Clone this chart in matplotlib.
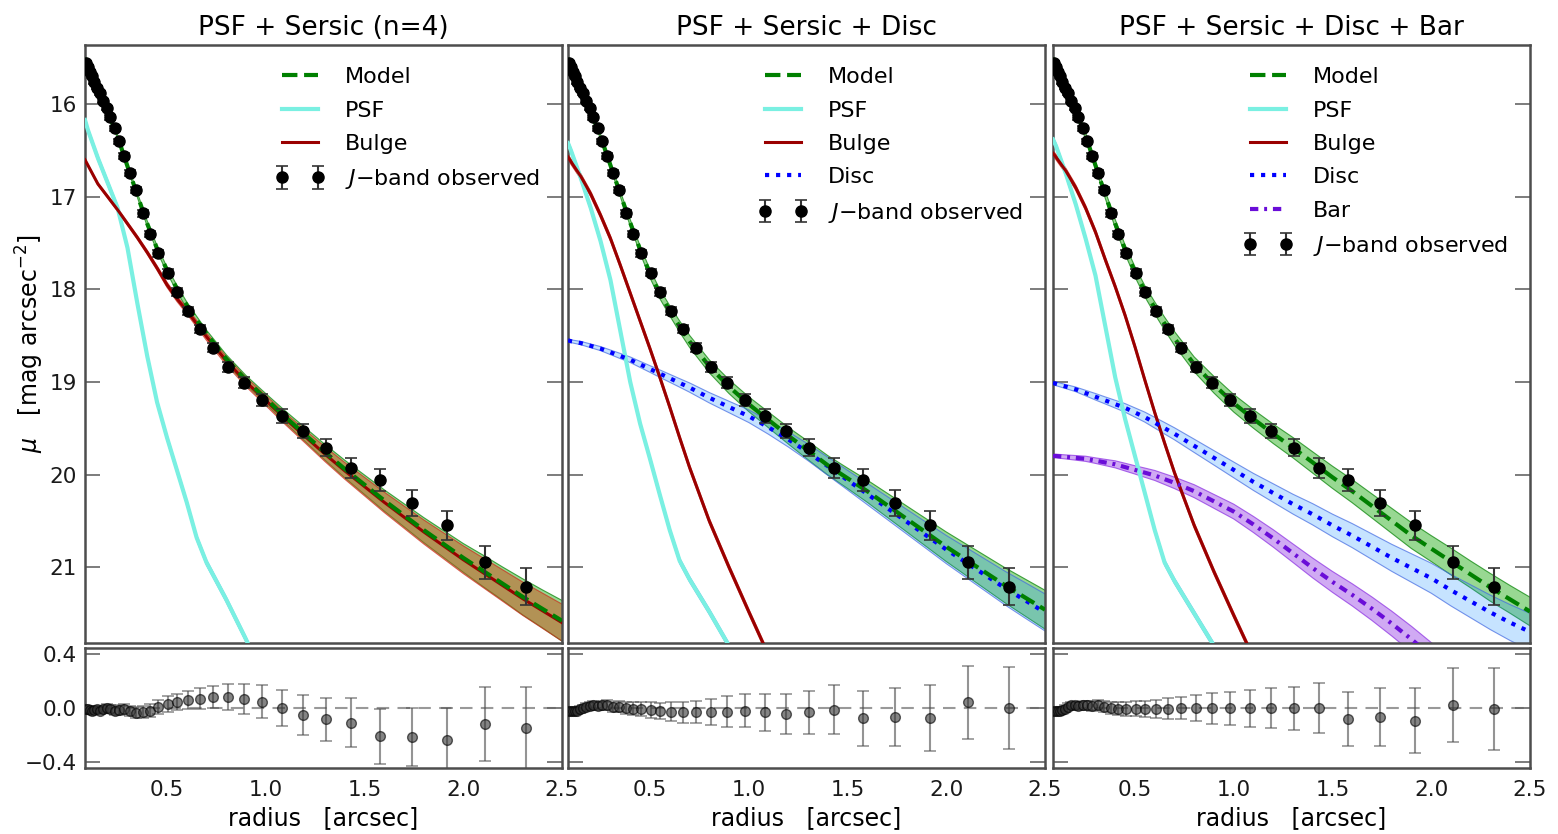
import numpy as np
import matplotlib.pyplot as plt

# isophote radii (arcsec) and observed J-band profile
r_obs = [0.090, 0.099, 0.109, 0.120, 0.132, 0.146, 0.160, 0.176, 0.194, 0.213,
         0.235, 0.258, 0.284, 0.312, 0.344, 0.378, 0.416, 0.457, 0.503, 0.553,
         0.609, 0.667, 0.731, 0.811, 0.890, 0.980, 1.083, 1.190, 1.304, 1.433,
         1.580, 1.740, 1.917, 2.110, 2.320]
mu_obs = [15.55, 15.60, 15.65, 15.70, 15.76, 15.82, 15.88, 15.96, 16.04, 16.14,
          16.26, 16.40, 16.56, 16.74, 16.93, 17.18, 17.40, 17.61, 17.82, 18.03,
          18.23, 18.43, 18.63, 18.84, 19.01, 19.20, 19.37, 19.53, 19.71, 19.93,
          20.06, 20.31, 20.55, 20.95, 21.21]
mu_err = [0.02, 0.02, 0.02, 0.02, 0.02, 0.02, 0.022, 0.022, 0.024, 0.025,
          0.026, 0.028, 0.03, 0.03, 0.032, 0.033, 0.035, 0.036, 0.038, 0.04,
          0.042, 0.045, 0.05, 0.055, 0.06, 0.065, 0.075, 0.08, 0.095, 0.11,
          0.12, 0.14, 0.16, 0.18, 0.2]
res_err = [0.02, 0.02, 0.02, 0.022, 0.022, 0.024, 0.025, 0.026, 0.028, 0.03,
           0.032, 0.034, 0.036, 0.038, 0.04, 0.044, 0.048, 0.052, 0.056, 0.06,
           0.068, 0.08, 0.082, 0.097, 0.113, 0.122, 0.136, 0.148, 0.158, 0.182,
           0.202, 0.217, 0.243, 0.273, 0.305]

res_sersic = [-0.01, -0.01, -0.015, -0.02, -0.015, -0.01, -0.02, -0.01, 0.0, -0.005,
              -0.02, -0.015, -0.01, -0.025, -0.035, -0.03, -0.02, 0.01, 0.03, 0.045,
              0.06, 0.07, 0.08, 0.08, 0.065, 0.045, 0.0, -0.055, -0.085, -0.11,
              -0.21, -0.215, -0.24, -0.12, -0.15]
res_disc = [-0.02, -0.02, -0.025, -0.02, -0.02, -0.01, 0.0, 0.01, 0.015, 0.02,
            0.015, 0.02, 0.02, 0.01, 0.01, 0.0, -0.005, -0.01, -0.015, -0.02,
            -0.027, -0.032, -0.027, -0.027, -0.027, -0.02, -0.032, -0.045, -0.032, -0.012,
            -0.077, -0.065, -0.075, 0.042, 0.0]
res_bar = [-0.02, -0.02, -0.025, -0.02, -0.015, -0.005, 0.01, 0.02, 0.02, 0.015,
           0.02, 0.02, 0.015, 0.02, 0.01, 0.0, -0.005, -0.01, -0.005, -0.005,
           -0.005, -0.005, -0.003, -0.003, -0.003, -0.003, -0.003, -0.003, -0.003, 0.0,
           -0.082, -0.065, -0.094, 0.022, -0.007]

# model components sampled along radius
nan = np.nan
r_mod = [0.085, 0.1, 0.15, 0.2, 0.25, 0.3, 0.35, 0.4, 0.45, 0.5, 0.55, 0.6, 0.65, 0.7, 0.8, 0.9,
         1.0, 1.1, 1.2, 1.3, 1.4, 1.5, 1.6, 1.7, 1.8, 1.9, 2.0, 2.1, 2.2, 2.3, 2.4, 2.5]

model1 = [15.50, 15.60, 15.84, 16.08, 16.35, 16.67, 16.98, 17.29, 17.56, 17.79, 17.99, 18.17, 18.33, 18.48, 18.75, 18.98,
          19.18, 19.38, 19.57, 19.76, 19.94, 20.11, 20.28, 20.44, 20.60, 20.75, 20.90, 21.04, 21.18, 21.32, 21.45, 21.58]
model1_band = [0.02, 0.02, 0.02, 0.02, 0.02, 0.025, 0.025, 0.03, 0.03, 0.03, 0.035, 0.035, 0.04, 0.04, 0.045, 0.05,
               0.055, 0.065, 0.075, 0.085, 0.095, 0.105, 0.115, 0.125, 0.135, 0.145, 0.155, 0.17, 0.18, 0.195, 0.205, 0.22]
bulge1 = [16.60, 16.66, 16.86, 17.00, 17.14, 17.29, 17.44, 17.60, 17.77, 17.95, 18.10, 18.23, 18.37, 18.51, 18.77, 19.00,
          19.20, 19.40, 19.59, 19.78, 19.96, 20.13, 20.30, 20.46, 20.62, 20.77, 20.92, 21.06, 21.20, 21.34, 21.47, 21.60]
bulge1_band = [0.01, 0.01, 0.012, 0.014, 0.016, 0.018, 0.02, 0.022, 0.025, 0.028, 0.03, 0.033, 0.036, 0.04, 0.045, 0.05,
               0.055, 0.062, 0.07, 0.08, 0.09, 0.1, 0.11, 0.12, 0.13, 0.14, 0.15, 0.16, 0.17, 0.18, 0.19, 0.2]
psf1 = [16.17, 16.28, 16.58, 16.85, 17.12, 17.55, 18.15, 18.72, 19.22, 19.60, 19.95, 20.30, 20.68, 20.95, 21.35, 21.78,
        22.25, nan, nan, nan, nan, nan, nan, nan, nan, nan, nan, nan, nan, nan, nan, nan]

model2 = [15.50, 15.61, 15.85, 16.08, 16.35, 16.66, 16.97, 17.28, 17.57, 17.83, 18.05, 18.23, 18.40, 18.56, 18.83, 19.05,
          19.24, 19.41, 19.58, 19.74, 19.90, 20.04, 20.18, 20.33, 20.48, 20.63, 20.78, 20.92, 21.06, 21.20, 21.33, 21.46]
model2_band = [0.02, 0.02, 0.02, 0.025, 0.025, 0.03, 0.03, 0.035, 0.04, 0.045, 0.05, 0.055, 0.06, 0.065, 0.07, 0.075,
               0.08, 0.085, 0.09, 0.1, 0.105, 0.11, 0.12, 0.13, 0.14, 0.15, 0.16, 0.17, 0.18, 0.19, 0.2, 0.21]
bulge2 = [16.57, 16.62, 16.78, 16.97, 17.20, 17.45, 17.74, 18.04, 18.34, 18.64, 18.95, 19.27, 19.60, 19.92, 20.50, 21.00,
          21.48, 21.95, nan, nan, nan, nan, nan, nan, nan, nan, nan, nan, nan, nan, nan, nan]
disc2 = [18.55, 18.56, 18.58, 18.61, 18.64, 18.68, 18.72, 18.76, 18.81, 18.86, 18.91, 18.96, 19.01, 19.06, 19.17, 19.27,
         19.37, 19.49, 19.62, 19.76, 19.91, 20.06, 20.21, 20.36, 20.51, 20.66, 20.81, 20.95, 21.09, 21.23, 21.36, 21.49]
disc2_band = [0.015, 0.015, 0.018, 0.02, 0.022, 0.025, 0.028, 0.03, 0.033, 0.036, 0.04, 0.043, 0.046, 0.05, 0.056, 0.062,
              0.068, 0.075, 0.082, 0.09, 0.098, 0.106, 0.115, 0.124, 0.133, 0.142, 0.152, 0.162, 0.172, 0.182, 0.192, 0.2]
psf2 = [16.42, 16.50, 16.80, 17.12, 17.48, 17.90, 18.45, 19.00, 19.45, 19.83, 20.22, 20.60, 20.93, 21.13, 21.48, 21.85,
        22.30, nan, nan, nan, nan, nan, nan, nan, nan, nan, nan, nan, nan, nan, nan, nan]

model3 = [15.50, 15.60, 15.84, 16.07, 16.34, 16.66, 16.98, 17.29, 17.57, 17.81, 18.02, 18.20, 18.37, 18.53, 18.81, 19.03,
          19.23, 19.40, 19.56, 19.71, 19.87, 20.03, 20.18, 20.34, 20.50, 20.66, 20.80, 20.94, 21.08, 21.22, 21.35, 21.48]
model3_band = [0.03, 0.03, 0.03, 0.03, 0.035, 0.035, 0.04, 0.045, 0.05, 0.055, 0.06, 0.065, 0.07, 0.075, 0.08, 0.09,
               0.095, 0.1, 0.105, 0.11, 0.115, 0.12, 0.125, 0.13, 0.135, 0.14, 0.14, 0.145, 0.145, 0.15, 0.15, 0.155]
bulge3 = [16.53, 16.57, 16.72, 16.90, 17.12, 17.38, 17.68, 17.97, 18.28, 18.62, 18.98, 19.33, 19.66, 19.98, 20.55, 21.05,
          21.52, 21.98, nan, nan, nan, nan, nan, nan, nan, nan, nan, nan, nan, nan, nan, nan]
disc3 = [19.01, 19.02, 19.05, 19.08, 19.12, 19.16, 19.20, 19.24, 19.28, 19.33, 19.38, 19.44, 19.50, 19.56, 19.69, 19.82,
         19.95, 20.08, 20.20, 20.32, 20.43, 20.55, 20.66, 20.78, 20.90, 21.01, 21.12, 21.25, 21.37, 21.49, 21.60, 21.70]
disc3_band = [0.02, 0.02, 0.022, 0.025, 0.03, 0.035, 0.038, 0.042, 0.046, 0.05, 0.054, 0.058, 0.062, 0.065, 0.072, 0.078,
              0.085, 0.092, 0.1, 0.107, 0.115, 0.122, 0.13, 0.138, 0.146, 0.154, 0.162, 0.17, 0.178, 0.186, 0.194, 0.2]
bar3 = [19.80, 19.80, 19.81, 19.82, 19.83, 19.85, 19.87, 19.89, 19.92, 19.95, 19.98, 20.01, 20.05, 20.09, 20.18, 20.29,
        20.40, 20.54, 20.69, 20.85, 21.01, 21.16, 21.30, 21.45, 21.61, 21.78, 21.96, 22.15, nan, nan, nan, nan]
bar3_band = [0.02, 0.02, 0.022, 0.025, 0.028, 0.03, 0.034, 0.038, 0.042, 0.045, 0.05, 0.054, 0.058, 0.062, 0.07, 0.075,
             0.08, 0.087, 0.094, 0.1, 0.107, 0.113, 0.12, 0.127, 0.134, 0.14, 0.145, 0.15, nan, nan, nan, nan]
psf3 = [16.38, 16.45, 16.75, 17.08, 17.45, 17.85, 18.40, 18.95, 19.40, 19.80, 20.20, 20.60, 20.95, 21.15, 21.50, 21.85,
        22.20, nan, nan, nan, nan, nan, nan, nan, nan, nan, nan, nan, nan, nan, nan, nan]

psf_band = 0.03
bulge_band = 0.03

titles = ['PSF + Sersic (n=4)', 'PSF + Sersic + Disc', 'PSF + Sersic + Disc + Bar']
panels = [
    dict(model=model1, mband=model1_band, psf=psf1, bulge=bulge1, bband=bulge1_band, res=res_sersic),
    dict(model=model2, mband=model2_band, psf=psf2, bulge=bulge2, bband=None, res=res_disc,
         disc=disc2, dband=disc2_band),
    dict(model=model3, mband=model3_band, psf=psf3, bulge=bulge3, bband=None, res=res_bar,
         disc=disc3, dband=disc3_band, bar=bar3, barband=bar3_band),
]
tick_marks = [[1.0], [1.0, 1.5], [1.5]]

r = np.array(r_mod)
psf_color = '#7af0e2'


def band(ax, y, w, face, edge, alpha, z):
    y = np.array(y, dtype=float)
    w = np.array(w, dtype=float) if np.ndim(w) else w
    ax.fill_between(r, y - w, y + w, facecolor=face, alpha=alpha, edgecolor='none', zorder=z)
    ax.plot(r, y - w, color=edge, lw=0.8, alpha=0.7, zorder=z)
    ax.plot(r, y + w, color=edge, lw=0.8, alpha=0.7, zorder=z)


def style_axes(ax, marks):
    ax.set_xlim(0.085, 2.5)
    ax.set_xticks([0.5, 1.0, 1.5, 2.0, 2.5])
    ax.set_xticks(marks, minor=True)
    ax.tick_params(axis='x', which='major', length=0, pad=9)
    ax.tick_params(axis='x', which='minor', direction='in', top=True, bottom=True,
                   length=11, width=1.2, color='0.4')
    ax.tick_params(axis='y', which='major', direction='in', left=True, right=True,
                   length=11, width=1.2, color='0.4', pad=6)
    ax.tick_params(labelsize=15.5, labelcolor='0.1')
    for s in ax.spines.values():
        s.set_linewidth(1.8)
        s.set_color('0.3')


fig = plt.figure(figsize=(15.58, 8.34), dpi=100)
W, H = 1558.0, 834.0
lefts = [85, 568, 1053]
width = 477

for i, p in enumerate(panels):
    ax = fig.add_axes([lefts[i] / W, (H - 643) / H, width / W, 598 / H])
    axr = fig.add_axes([lefts[i] / W, (H - 768) / H, width / W, 120 / H])

    # uncertainty bands
    band(ax, p['model'], p['mband'], '#33b226', 'g', 0.5, 1)
    if 'disc' in p:
        band(ax, p['disc'], p['dband'], 'dodgerblue', 'royalblue', 0.25, 2)
    if 'bar' in p:
        band(ax, p['bar'], p['barband'], 'blueviolet', 'blueviolet', 0.4, 2)
    if p['bband'] is not None:
        band(ax, p['bulge'], p['bband'], '#cc4d1a', '#cc2a1a', 0.5, 2)
    else:
        band(ax, p['bulge'], bulge_band, '#cc2a1a', '#cc2a1a', 0.5, 2)
    band(ax, p['psf'], psf_band, psf_color, 'royalblue', 0.5, 2)

    # components
    ax.plot(r, p['model'], color='g', ls='--', lw=3, zorder=5, label='Model')
    ax.plot(r, p['psf'], color=psf_color, lw=3, zorder=4, label='PSF')
    ax.plot(r, p['bulge'], color='#9a0000', lw=2.2, zorder=4, label='Bulge')
    if 'disc' in p:
        ax.plot(r, p['disc'], color='b', ls=':', lw=3, zorder=4, label='Disc')
    if 'bar' in p:
        ax.plot(r, p['bar'], color='#6a0dd8', lw=3, dashes=(2, 1.4, 0.7, 1.4), zorder=4, label='Bar')
    ax.errorbar(r_obs, mu_obs, yerr=mu_err, fmt='o', color='k', ms=8, ecolor='0.2',
                elinewidth=1.5, capsize=4, capthick=1.2, zorder=6, label=r'$J{-}$band observed')

    ax.set_ylim(21.82, 15.36)
    ax.set_yticks([16, 17, 18, 19, 20, 21])
    style_axes(ax, tick_marks[i])
    ax.tick_params(labelbottom=False)
    if i > 0:
        ax.tick_params(labelleft=False)
    ax.set_title(titles[i], fontsize=19, pad=7)
    ax.legend(loc='upper right', frameon=False, fontsize=16, numpoints=2,
              handlelength=2.2, labelspacing=0.6, handletextpad=0.9, borderaxespad=0.6)

    # residuals
    axr.axhline(0, color='0.6', ls='--', lw=1.5, dashes=(6, 4), zorder=1)
    axr.errorbar(r_obs, p['res'], yerr=res_err, fmt='o', color='0.2', mec='k', ms=7,
                 alpha=0.6, ecolor='0.3', elinewidth=1.5, capsize=4, capthick=1.2, zorder=3)
    axr.set_ylim(-0.445, 0.445)
    axr.set_yticks([-0.4, 0.0, 0.4])
    style_axes(axr, tick_marks[i])
    if i > 0:
        axr.tick_params(labelleft=False)
    axr.set_xlabel('radius   [arcsec]', fontsize=17, labelpad=4)

fig.text(30 / W, 1 - 344 / H, r'$\mu$   [mag arcsec$^{-2}$]', rotation=90,
         ha='center', va='center', fontsize=17)

fig.savefig('out.png', dpi=100)
